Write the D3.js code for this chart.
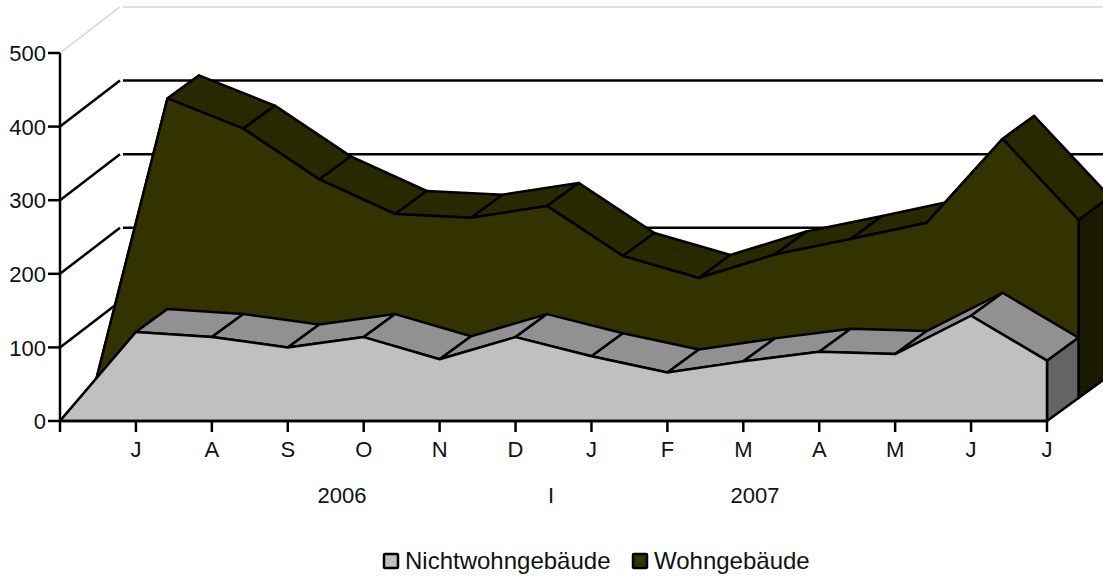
<!DOCTYPE html>
<html>
<head>
<meta charset="utf-8">
<script src="https://cdn.jsdelivr.net/npm/d3@7"></script>
<style>
  html, body { margin: 0; padding: 0; background: #fff; }
  svg { display: block; }
  text { font-family: "Liberation Sans", Arial, sans-serif; fill: #111; }
</style>
</head>
<body>
<div id="chart"></div>
<script>
var months = ['', 'J', 'A', 'S', 'O', 'N', 'D', 'J', 'F', 'M', 'A', 'M', 'J', 'J'];
var nichtwohn = [0, 121, 114, 100, 114, 84, 114, 88, 66, 81, 94, 91, 143, 82];
var wohn = [0, 407, 366, 297, 250, 245, 261, 193, 163, 195, 216, 238, 352, 242];
var yTicks = [0, 100, 200, 300, 400, 500];
var years = [['2006', 342], ['I', 551], ['2007', 755]];
var legendNames = ['Nichtwohngebäude', 'Wohngebäude'];

var width = 1103, height = 578;
var dx = 31.5, dy = -23;      // depth of one series
var wallX = 61, wallY = -46;  // depth of the back wall
var lineW = 2.5;

var x = d3.scaleLinear().domain([0, months.length - 1]).range([60, 1047]);
var y = d3.scaleLinear().domain([0, 500]).range([421, 53]);

var svg = d3.select('#chart').append('svg')
  .attr('width', width)
  .attr('height', height);

// back wall grid
var grid = svg.append('g').attr('fill', 'none');
yTicks.slice(1).forEach(function(t) {
  var color = t === 500 ? '#d4d4d4' : '#000';
  var w = t === 500 ? 1.5 : lineW;
  grid.append('line')
    .attr('x1', x(0)).attr('y1', y(t))
    .attr('x2', x(0) + wallX - 1).attr('y2', y(t) + wallY)
    .attr('stroke', color).attr('stroke-width', w);
  grid.append('line')
    .attr('x1', x(0) + wallX + 2).attr('y1', y(t) + wallY)
    .attr('x2', width).attr('y2', y(t) + wallY)
    .attr('stroke', color).attr('stroke-width', w);
});

function drawSeries(values, layer, front, top, side) {
  var ox = layer * dx, oy = layer * dy;
  var g = svg.append('g')
    .attr('transform', 'translate(' + ox + ',' + oy + ')')
    .attr('stroke', '#000')
    .attr('stroke-width', lineW)
    .attr('stroke-linejoin', 'round');

  var poly = function(pts) {
    return 'M' + pts.map(function(p) { return p.join(','); }).join('L') + 'Z';
  };

  // top faces, one per segment
  g.selectAll('path.top')
    .data(d3.pairs(values.map(function(v, i) { return [i, v]; })))
    .enter().append('path')
    .attr('class', 'top')
    .attr('fill', top)
    .attr('d', function(s) {
      var a = [x(s[0][0]), y(s[0][1])], b = [x(s[1][0]), y(s[1][1])];
      return poly([a, b, [b[0] + dx, b[1] + dy], [a[0] + dx, a[1] + dy]]);
    });

  // right end
  var last = values.length - 1;
  g.append('path')
    .attr('fill', side)
    .attr('d', poly([
      [x(last), y(values[last])],
      [x(last) + dx, y(values[last]) + dy],
      [x(last) + dx, y(0) + dy],
      [x(last), y(0)]
    ]));

  // front face
  var area = d3.area()
    .x(function(d, i) { return x(i); })
    .y0(y(0))
    .y1(function(d) { return y(d); });
  g.append('path').attr('fill', front).attr('d', area(values));
}

drawSeries(wohn, 1, '#333300', '#292900', '#1a1a00');
drawSeries(nichtwohn, 0, '#c0c0c0', '#919191', '#646464');

// axes
var yAxis = svg.append('g')
  .attr('transform', 'translate(' + x(0) + ',0)')
  .call(d3.axisLeft(y).offset(0).tickValues(yTicks).tickSize(12).tickSizeOuter(0).tickPadding(2));
var xAxis = svg.append('g')
  .attr('transform', 'translate(0,' + y(0) + ')')
  .call(d3.axisBottom(x).offset(0)
    .tickValues(d3.range(months.length))
    .tickFormat(function(i) { return months[i]; })
    .tickSize(11).tickSizeOuter(0).tickPadding(9));
[yAxis, xAxis].forEach(function(a) {
  a.selectAll('path, line').attr('stroke', '#000').attr('stroke-width', lineW);
  a.selectAll('text').style('font-size', '22px')
    .style('font-family', '"Liberation Sans", Arial, sans-serif').attr('fill', '#111');
});
yAxis.selectAll('text').attr('dy', '0.37em');

years.forEach(function(d) {
  svg.append('text')
    .attr('x', d[1]).attr('y', 503)
    .attr('text-anchor', 'middle')
    .style('font-size', '22px')
    .text(d[0]);
});

// legend
var legendX = [384, 633], legendColors = ['#c0c0c0', '#333300'];
legendNames.forEach(function(name, i) {
  svg.append('rect')
    .attr('x', legendX[i]).attr('y', 554)
    .attr('width', 14).attr('height', 14)
    .attr('rx', 1)
    .attr('fill', legendColors[i])
    .attr('stroke', '#000').attr('stroke-width', lineW);
  svg.append('text')
    .attr('x', legendX[i] + 21).attr('y', 569)
    .style('font-size', '24px')
    .text(name);
});
</script>
</body>
</html>
